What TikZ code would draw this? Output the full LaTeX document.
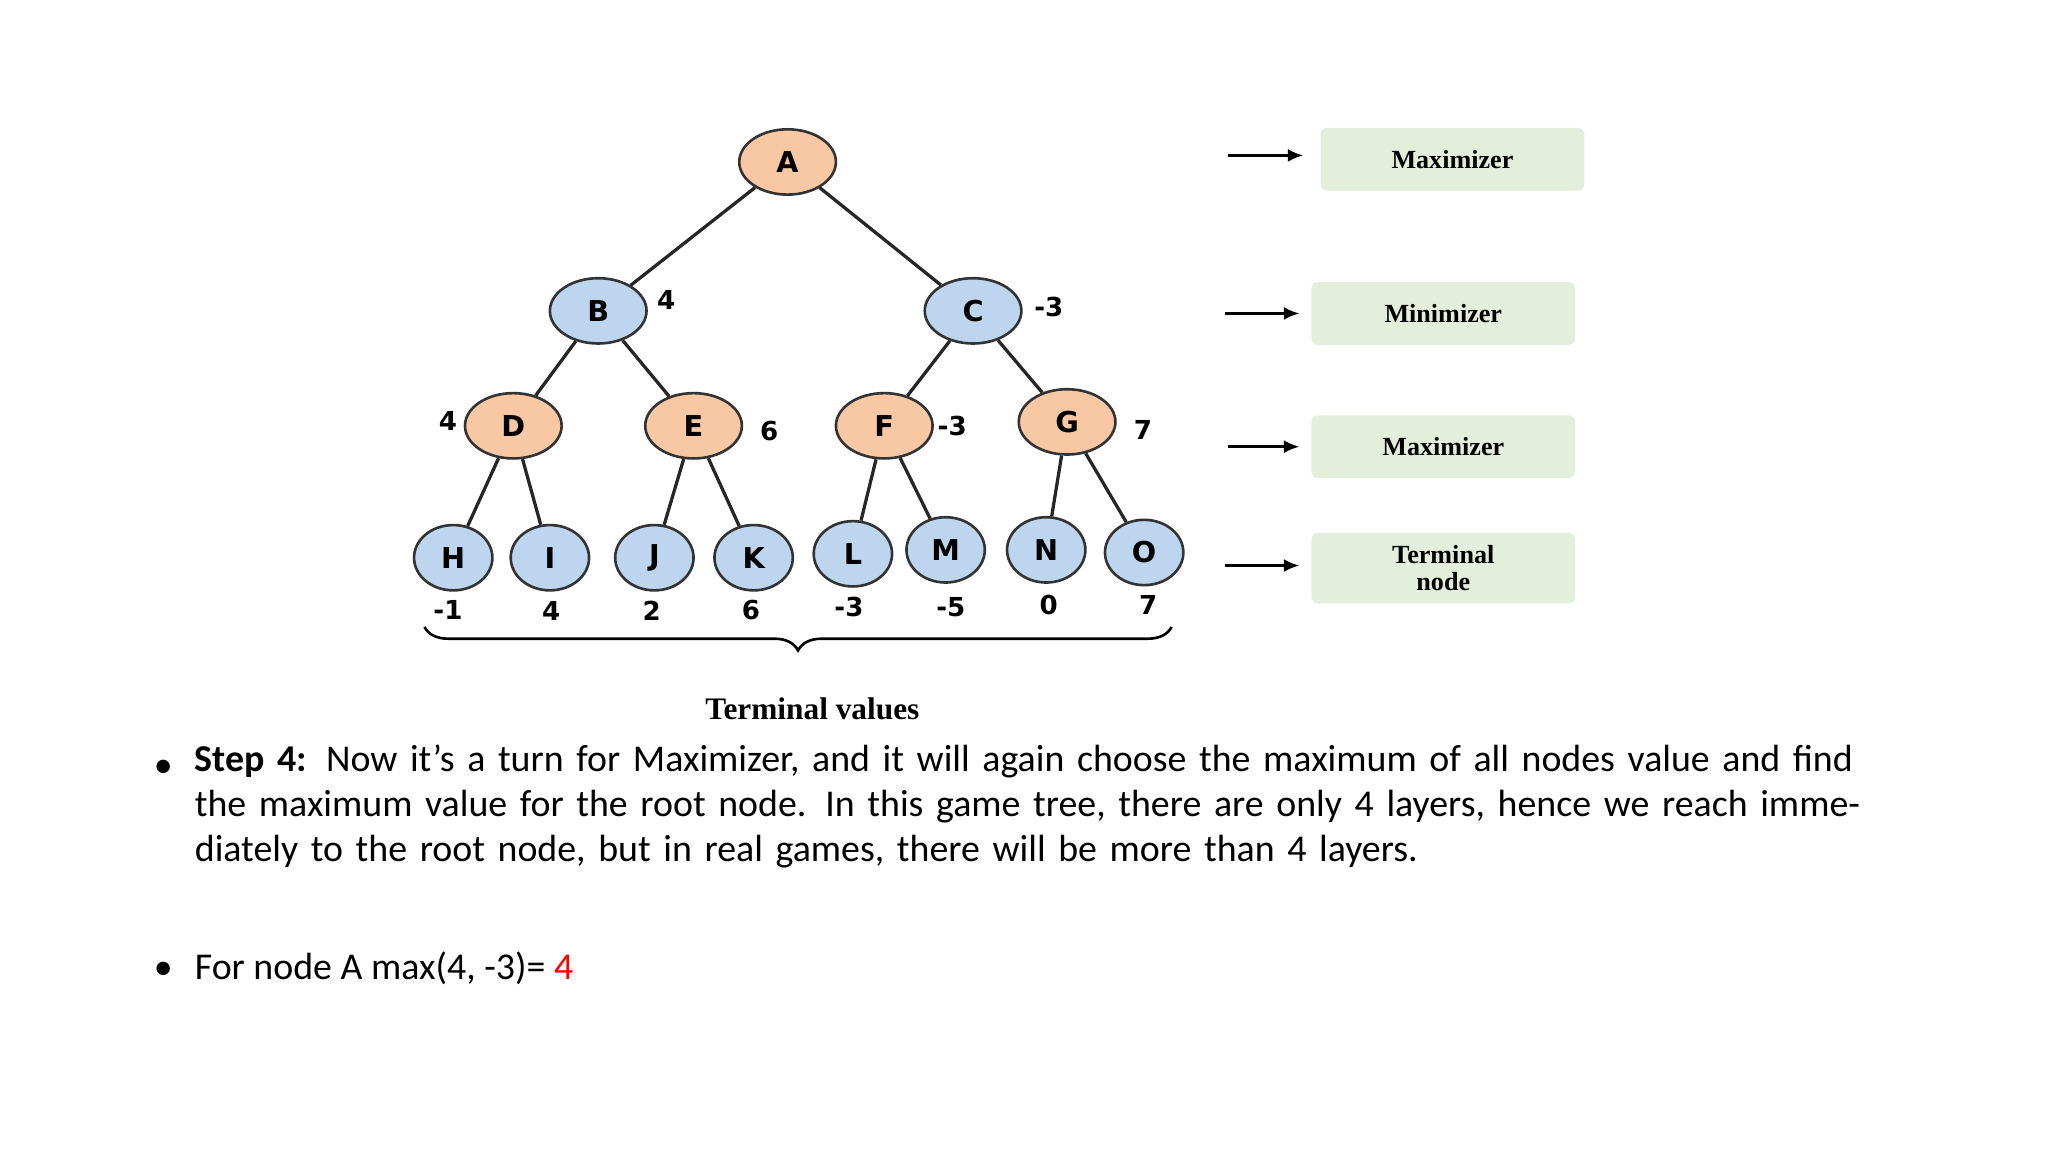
\documentclass[tikz,border=0pt]{standalone}
\usepackage{fontspec}
\setmainfont{Carlito}
\newfontfamily\treefont{DejaVu Sans}
\newfontfamily\serifb{Liberation Serif}
\usetikzlibrary{decorations.pathreplacing,arrows.meta,shapes.geometric}
\definecolor{maxc}{HTML}{F8C8A4}
\definecolor{minc}{HTML}{BDD5EE}
\definecolor{boxc}{HTML}{E3EEDB}
\tikzset{
  inner/.style={ellipse,draw=black!80,line width=2pt,minimum width=74pt,minimum height=50pt,inner sep=0pt,font=\treefont\bfseries\fontsize{22}{22}\selectfont},
  leaf/.style={ellipse,draw=black!80,line width=2pt,fill=minc,minimum width=60pt,minimum height=50pt,inner sep=0pt,font=\treefont\bfseries\fontsize{22}{22}\selectfont},
  mx/.style={inner,fill=maxc}, mn/.style={inner,fill=minc},
  val/.style={font=\treefont\bfseries\fontsize{20}{20}\selectfont},
  edge/.style={line width=2.5pt,black!85},
  lbl/.style={rounded corners=5pt,fill=boxc,minimum width=202pt,minimum height=48pt,align=center,font=\serifb\bfseries\fontsize{20}{21}\selectfont},
  arr/.style={line width=2.5pt,-{Latex[length=12pt,width=10pt]}},
}
\begin{document}
\begin{tikzpicture}[x=1pt,y=-1pt]
\useasboundingbox (0,0) rectangle (1568,882);
\node[mx] (A) at (603,124) {A};
\node[mn] (B) at (458,238) {B};
\node[mn] (C) at (745,238) {C};
\node[mx] (D) at (393,326) {D};
\node[mx] (E) at (531,326) {E};
\node[mx] (F) at (677,326) {F};
\node[mx] (G) at (817,323) {G};
\node[leaf] (H) at (347,427) {H};
\node[leaf] (I) at (421,427) {I};
\node[leaf] (J) at (501,427) {J};
\node[leaf] (K) at (577,427) {K};
\node[leaf] (L) at (653,424) {L};
\node[leaf] (M) at (724,421) {M};
\node[leaf] (N) at (801,421) {N};
\node[leaf] (O) at (876,423) {O};
\foreach \p/\c in {A/B,A/C,B/D,B/E,C/F,C/G,D/H,D/I,E/J,E/K,F/L,F/M,G/N,G/O}
  \draw[edge] (\p) -- (\c);
\node[val] (vB) at (510,230) {4};
\node[val] (vC) at (803,235) {-3};
\node[val] (vD) at (343,322) {4};
\node[val] (vE) at (589,330) {6};
\node[val] (vF) at (729,326) {-3};
\node[val] (vG) at (875,329) {7};
\node[val] (vH) at (343,467) {-1};
\node[val] (vI) at (422,468) {4};
\node[val] (vJ) at (499,468) {2};
\node[val] (vK) at (575,467) {6};
\node[val] (vL) at (650,465) {-3};
\node[val] (vM) at (728,465) {-5};
\node[val] (vN) at (803,463) {0};
\node[val] (vO) at (879,463) {7};
\coordinate (b1) at (325,480);
\coordinate (b2) at (897,480);
\draw[line width=2pt,decorate,decoration={brace,mirror,amplitude=18pt,aspect=0.5}] (b1) -- (b2);
\node[font=\serifb\bfseries\fontsize{24}{24}\selectfont] (tv) at (622,543) {Terminal values};
\node[lbl] (L1) at (1112,122) {Maximizer};
\node[lbl] (L2) at (1105,240) {Minimizer};
\node[lbl] (L3) at (1105,342) {Maximizer};
\node[lbl,minimum height=54pt] (L4) at (1105,435) {Terminal\\node};
\coordinate (a1) at (940,119); \coordinate (a2) at (938,240);
\coordinate (a3) at (940,342); \coordinate (a4) at (938,433);
\draw[arr] (a1) -- ++(58,0);
\draw[arr] (a2) -- ++(57,0);
\draw[arr] (a3) -- ++(55,0);
\draw[arr] (a4) -- ++(57,0);
\node[anchor=north west,text width=1290pt,align=left,font=\fontsize{29}{34.5}\selectfont,inner sep=0pt] (t1) at (149,570)
  {\textbf{Step 4:} Now it's a turn for Maximizer, and it will again choose the maximum of all nodes value and find the maximum value for the root node. In this game tree, there are only 4 layers, hence we reach immediately to the root node, but in real games, there will be more than 4 layers.};
\node[anchor=base,font=\fontsize{29}{34}\selectfont] (bu1) at (125,595) {•};
\node[anchor=base west,font=\fontsize{29}{34}\selectfont,inner sep=0pt] (t2) at (149,750) {For node A max(4, -3)= \textcolor{red}{4}};
\node[anchor=base,font=\fontsize{29}{34}\selectfont] (bu2) at (125,750) {•};
\end{tikzpicture}
\end{document}
